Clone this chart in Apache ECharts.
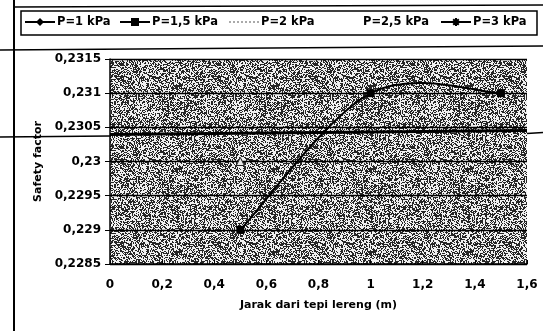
<!DOCTYPE html>
<html>
<head>
<meta charset="utf-8">
<script src="https://cdn.jsdelivr.net/npm/echarts@6/dist/echarts.min.js"></script>
<style>
  html, body { margin: 0; padding: 0; background: #fff; }
  #chart { width: 543px; height: 331px; }
</style>
</head>
<body>
<div id="chart"></div>
<script>
// series data
const seriesNames = ['P=1 kPa', 'P=1,5 kPa', 'P=2 kPa', 'P=2,5 kPa', 'P=3 kPa'];
const xP1 = [];
const yP1 = [];
const xP15 = [0.5, 1, 1.5];
const yP15 = [0.229, 0.231, 0.231];
const xP2 = [0.5];
const yP2 = [0.23];
const xP25 = [];
const yP25 = [];
const xP3 = [];
const yP3 = [];

const xTicks = [0, 0.2, 0.4, 0.6, 0.8, 1, 1.2, 1.4, 1.6];
const yTicks = [0.2285, 0.229, 0.2295, 0.23, 0.2305, 0.231, 0.2315];

const pairs = (xs, ys) => xs.map((x, i) => [x, ys[i]]);
const comma = v => String(parseFloat(Number(v).toFixed(4))).replace('.', ',');

// dithered grey texture like the scanned plot area
function makeNoise() {
  const c = document.createElement('canvas');
  c.width = 97; c.height = 83;
  const ctx = c.getContext('2d');
  ctx.fillStyle = '#f0f0f0';
  ctx.fillRect(0, 0, c.width, c.height);
  ctx.fillStyle = '#262626';
  let s = 12345;
  for (let y = 0; y < c.height; y++) {
    for (let x = 0; x < c.width; x++) {
      s = (s * 1103515245 + 12345) & 0x7fffffff;
      if ((s >> 8) % 100 < 48) ctx.fillRect(x, y, 1, 1);
    }
  }
  return c;
}

// Excel-style smoothed line: cubic Bezier through the points (tension 1/6)
function excelSmooth(params, api) {
  if (params.dataIndexInside !== 0) return null;
  const n = params.dataInsideLength;
  const p = [];
  for (let i = 0; i < n; i++) p.push(api.coord([xP15[i], yP15[i]]));
  let d = 'M' + p[0][0] + ',' + p[0][1];
  for (let i = 0; i < n - 1; i++) {
    const p0 = p[Math.max(i - 1, 0)], p1 = p[i], p2 = p[i + 1], p3 = p[Math.min(i + 2, n - 1)];
    const c1 = [p1[0] + (p2[0] - p0[0]) / 6, p1[1] + (p2[1] - p0[1]) / 6];
    const c2 = [p2[0] - (p3[0] - p1[0]) / 6, p2[1] - (p3[1] - p1[1]) / 6];
    d += 'C' + c1.join(',') + ' ' + c2.join(',') + ' ' + p2.join(',');
  }
  return {
    type: 'path',
    shape: { pathData: d },
    style: { fill: null, stroke: '#000', lineWidth: 2 }
  };
}

const font = 'DejaVu Sans';
const asterisk = 'path://M0,5L10,5M5,0L5,10M1.5,1.5L8.5,8.5M8.5,1.5L1.5,8.5';

const legendLefts = [24, 119, 228, 330, 440];
const legendItems = [
  { name: seriesNames[0] },
  { name: seriesNames[1], lineStyle: { width: 2, opacity: 1, color: '#000' } },
  { name: seriesNames[2], itemStyle: { opacity: 0 } },
  { name: seriesNames[3] },
  { name: seriesNames[4] }
];
const legends = legendItems.map((item, i) => ({
  data: [item],
  left: legendLefts[i],
  top: 16,
  itemWidth: 30,
  itemHeight: 10,
  itemGap: 0,
  padding: 0,
  selectedMode: false,
  textStyle: { fontFamily: font, fontWeight: 'bold', fontSize: 11.5, color: '#000', padding: [0, 0, 0, -3] }
}));

const chart = echarts.init(document.getElementById('chart'));
chart.setOption({
  animation: false,
  backgroundColor: '#fff',
  legend: legends,
  grid: {
    left: 110, right: 16, top: 59, bottom: 67,
    show: true,
    borderWidth: 0,
    backgroundColor: { image: makeNoise(), repeat: 'repeat' }
  },
  xAxis: {
    type: 'value',
    min: 0, max: 1.6, interval: 0.2,
    name: 'Jarak dari tepi lereng (m)',
    nameLocation: 'middle',
    nameGap: 36,
    nameTextStyle: { fontFamily: font, fontWeight: 'bold', fontSize: 11, color: '#000' },
    axisLine: { lineStyle: { color: '#000', width: 1.5 } },
    axisTick: { inside: true, length: 4, lineStyle: { color: '#000' } },
    axisLabel: {
      margin: 15, fontFamily: font, fontWeight: 'bold', fontSize: 12, color: '#000',
      formatter: v => comma(xTicks.find(t => Math.abs(t - v) < 1e-9) ?? v)
    },
    splitLine: { show: false }
  },
  yAxis: {
    type: 'value',
    min: 0.2285, max: 0.2315, interval: 0.0005,
    name: 'Safety factor',
    nameLocation: 'middle',
    nameGap: 66,
    nameTextStyle: { fontFamily: font, fontWeight: 'bold', fontSize: 11, color: '#000' },
    axisLine: { show: true, lineStyle: { color: '#000', width: 1.5 } },
    axisTick: { show: true, length: 5, lineStyle: { color: '#000' } },
    axisLabel: {
      margin: 9, fontFamily: font, fontWeight: 'bold', fontSize: 12, color: '#000',
      formatter: v => comma(yTicks.find(t => Math.abs(t - v) < 1e-9) ?? v)
    },
    splitLine: { show: true, lineStyle: { color: '#000', width: 1.3 } }
  },
  series: [
    {
      name: seriesNames[0], type: 'line', data: pairs(xP1, yP1),
      symbol: 'diamond', symbolSize: 8,
      lineStyle: { color: '#000', width: 1.5 }, itemStyle: { color: '#000' }
    },
    {
      // markers only; the connecting curve is drawn by the custom series below
      name: seriesNames[1], type: 'line', data: pairs(xP15, yP15),
      symbol: 'rect', symbolSize: 8, z: 4,
      lineStyle: { color: '#000', width: 2, opacity: 0 }, itemStyle: { color: '#000' }
    },
    {
      type: 'custom', data: pairs(xP15, yP15), renderItem: excelSmooth, z: 3,
      silent: true
    },
    {
      name: seriesNames[2], type: 'line', data: pairs(xP2, yP2),
      symbol: 'triangle', symbolSize: 8,
      lineStyle: { color: '#aaa', width: 1.5, type: 'dotted' },
      itemStyle: { color: '#e8e8e8', borderColor: '#222', borderWidth: 1 }
    },
    {
      name: seriesNames[3], type: 'line', data: pairs(xP25, yP25),
      symbol: 'none',
      lineStyle: { color: '#fff', width: 1.5 }, itemStyle: { color: '#fff' }
    },
    {
      name: seriesNames[4], type: 'line', data: pairs(xP3, yP3),
      symbol: asterisk, symbolSize: 8,
      lineStyle: { color: '#000', width: 1.5 },
      itemStyle: { color: '#000', borderColor: '#000', borderWidth: 1.5 }
    }
  ],
  graphic: [
    // legend frame
    { type: 'rect', shape: { x: 21, y: 11, width: 516, height: 24 }, style: { fill: null, stroke: '#000', lineWidth: 1.5 }, z: 10 },
    // scan artefacts: page edges and the ruled line through the plot
    { type: 'line', shape: { x1: 14, y1: 0, x2: 14, y2: 331 }, style: { stroke: '#000', lineWidth: 2 }, z: 10 },
    { type: 'line', shape: { x1: 14, y1: 7, x2: 543, y2: 5 }, style: { stroke: '#000', lineWidth: 1.5 }, z: 10 },
    { type: 'line', shape: { x1: 0, y1: 50, x2: 543, y2: 46 }, style: { stroke: '#000', lineWidth: 1.5 }, z: 10 },
    { type: 'line', shape: { x1: 0, y1: 137, x2: 110, y2: 136 }, style: { stroke: '#000', lineWidth: 1.5 }, z: 10 },
    { type: 'line', shape: { x1: 110, y1: 134.5, x2: 527, y2: 130.5 }, style: { stroke: '#000', lineWidth: 3 }, z: 10 },
    { type: 'line', shape: { x1: 527, y1: 133.5, x2: 543, y2: 132.5 }, style: { stroke: '#000', lineWidth: 1.5 }, z: 10 }
  ]
});
</script>
</body>
</html>
